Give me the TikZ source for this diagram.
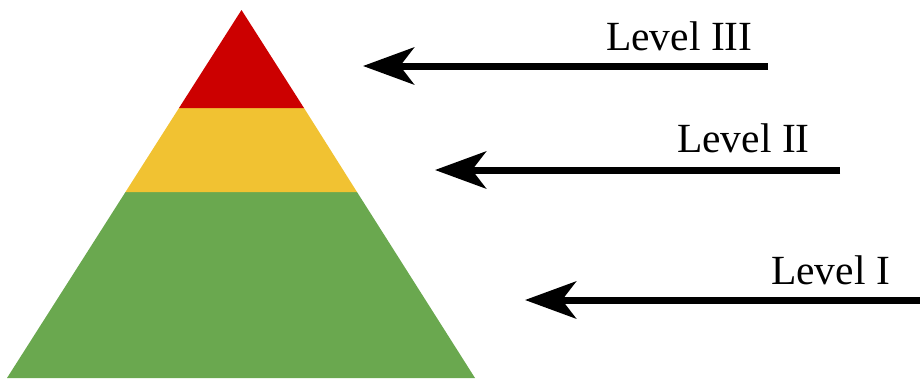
\documentclass[tikz,border=0pt]{standalone}
\usepackage{fontspec}
\setmainfont{Liberation Serif}
\usepackage{xcolor}
\usepackage{tikz}
\usetikzlibrary{arrows.meta,positioning,calc}
\definecolor{pyred}{HTML}{CC0000}
\definecolor{pyyellow}{HTML}{F1C232}
\definecolor{pygreen}{HTML}{6AA84F}
\tikzset{
  layer/.style={draw=none},
  lvl/.style={anchor=base west, inner sep=0pt, font=\fontsize{41.5}{48}\selectfont},
  ar/.style={-{Stealth[length=51pt,width=37pt,inset=14pt]}, draw=black, line width=7pt},
}
\begin{document}
\begin{tikzpicture}[x=1pt,y=-1pt]
\useasboundingbox (0,0) rectangle (920,381);

% ---------- pyramid ----------
\coordinate (apex) at (241.5,10);
\coordinate (bl) at (7,378);
\coordinate (br) at (475,378);
\coordinate (ml) at (179,108);  \coordinate (mr) at (304,108);
\coordinate (ll) at (125.5,192); \coordinate (lr) at (357,192);
\fill[layer,pygreen]  (ll) -- (lr) -- (br) -- (bl) -- cycle;
\fill[layer,pyyellow] (ml) -- (mr) -- (lr) -- (ll) -- cycle;
\fill[layer,pyred]    (apex) -- (mr) -- (ml) -- cycle;

% ---------- labels ----------
\node[lvl] (l3) at (606,50) {Level III};
\node[lvl] (l2) at (677,152) {Level II};
\node[lvl] (l1) at (771,284) {Level I};

% ---------- arrows ----------
\coordinate (s3) at (768,66);  \coordinate (t3) at (363,66);
\coordinate (s2) at (840,170); \coordinate (t2) at (435,170);
\coordinate (s1) at (920,300); \coordinate (t1) at (525,300);
\draw[ar] (s3) -- (t3);
\draw[ar] (s2) -- (t2);
\draw[ar] (s1) -- (t1);
\end{tikzpicture}
\end{document}
